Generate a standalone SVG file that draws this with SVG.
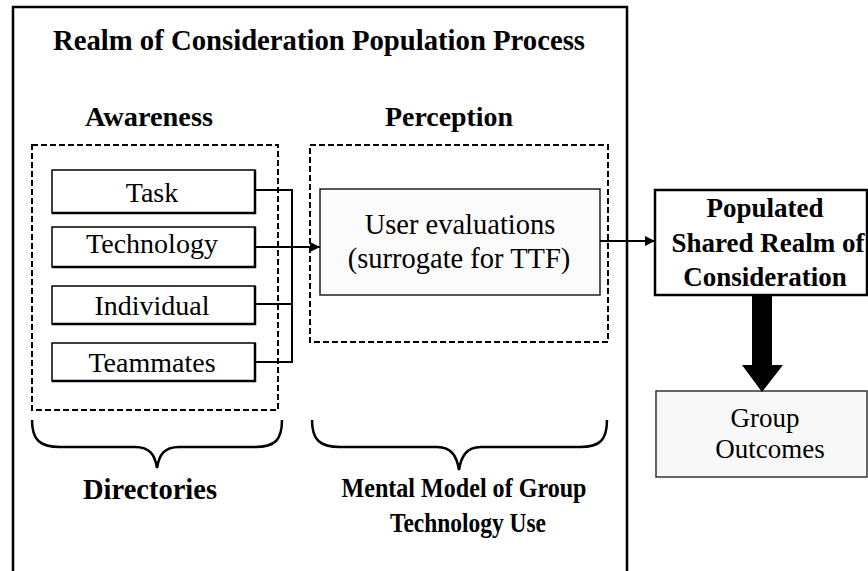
<svg xmlns="http://www.w3.org/2000/svg" width="868" height="571" viewBox="0 0 868 571">
<style>
text{font-family:"Liberation Serif","Times New Roman",serif;fill:#000;text-anchor:middle}
.b{font-weight:bold}
.t{font-size:28px}
.dash{fill:none;stroke:#000;stroke-width:2;stroke-dasharray:6 3}
.box{fill:#fff;stroke:#000;stroke-width:1.5}
.sh{fill:none;stroke:#000;stroke-width:2.5}
.ln{fill:none;stroke:#000;stroke-width:2}
.brace{fill:none;stroke:#000;stroke-width:2.5}
</style>
<defs>
<marker id="ah" viewBox="0 0 10 10" refX="10" refY="5" markerWidth="10" markerHeight="10" markerUnits="userSpaceOnUse" orient="auto">
<path d="M0,0 L10,5 L0,10 z" fill="#000"/>
</marker>
</defs>
<rect width="868" height="571" fill="#fff"/>
<g id="frame">
<path d="M13,571 L13,7 L627,7 L627,571" fill="none" stroke="#000" stroke-width="2.5"/>
<text class="b" x="319" y="50" font-size="28.5" textLength="532" lengthAdjust="spacingAndGlyphs">Realm of Consideration Population Process</text>
</g>
<g id="awareness">
<text class="b" x="149" y="126" font-size="27" textLength="128" lengthAdjust="spacingAndGlyphs">Awareness</text>
<rect class="dash" x="32" y="145" width="246" height="265"/>
</g>
<g id="perception">
<text class="b" x="449" y="126" font-size="27" textLength="128" lengthAdjust="spacingAndGlyphs">Perception</text>
<rect class="dash" x="310" y="145" width="298" height="197"/>
</g>
<g id="task">
<rect class="box" x="52" y="170" width="203" height="43"/>
<path class="sh" d="M52,213 L255,213 L255,170"/>
<text class="t" x="152" y="202">Task</text>
</g>
<g id="technology">
<rect class="box" x="52" y="227" width="203" height="40"/>
<path class="sh" d="M52,267 L255,267 L255,227"/>
<text class="t" x="152" y="253">Technology</text>
</g>
<g id="individual">
<rect class="box" x="52" y="286" width="203" height="38"/>
<path class="sh" d="M52,324 L255,324 L255,286"/>
<text class="t" x="152" y="315">Individual</text>
</g>
<g id="teammates">
<rect class="box" x="52" y="343" width="203" height="38"/>
<path class="sh" d="M52,381 L255,381 L255,343"/>
<text class="t" x="152" y="372">Teammates</text>
</g>
<g id="user-evaluations">
<rect x="320" y="189" width="280" height="106" fill="#fbfbfb" stroke="#222" stroke-width="1.5"/>
<text x="460" y="234" font-size="28.5">User evaluations</text>
<text x="459" y="268" font-size="28.5">(surrogate for TTF)</text>
</g>
<g id="populated">
<rect x="655" y="190" width="212" height="105" fill="#fff" stroke="#000" stroke-width="2.5"/>
<text class="b" x="765" y="217" font-size="27">Populated</text>
<text class="b" x="768" y="252" font-size="27">Shared Realm of</text>
<text class="b" x="765" y="286" font-size="27">Consideration</text>
</g>
<g id="group-outcomes">
<rect x="656" y="391" width="211" height="86" fill="#f8f8f8" stroke="#333" stroke-width="1.5"/>
<text x="765" y="427" font-size="27">Group</text>
<text x="770" y="458" font-size="27">Outcomes</text>
</g>
<g id="directories">
<path class="brace" d="M32,420 C32,440 40,447 60,447 L135,447 C150,447 155,455 157,468 C159,455 164,447 179,447 L255,447 C275,447 282,440 282,420"/>
<text class="b" x="150" y="499" font-size="28.5">Directories</text>
</g>
<g id="mental-model">
<path class="brace" d="M312,420 C312,440 320,447 340,447 L437,447 C452,447 457,457 459,470 C461,457 466,447 481,447 L580,447 C600,447 607,440 607,420"/>
<text class="b" x="464" y="497" font-size="27" textLength="245" lengthAdjust="spacingAndGlyphs">Mental Model of Group</text>
<text class="b" x="468" y="532" font-size="27" textLength="156" lengthAdjust="spacingAndGlyphs">Technology Use</text>
</g>
<g id="connectors">
<path class="ln" d="M255,190 L292,190 L292,362 L255,362 M255,304 L292,304"/>
<path class="ln" d="M255,247 L320,247" marker-end="url(#ah)"/>
<path class="ln" d="M600,241 L655,241" marker-end="url(#ah)"/>
<path d="M752,295 L772,295 L772,365 L783,365 L762,392 L742,365 L752,365 z" fill="#000"/>
</g>
</svg>
